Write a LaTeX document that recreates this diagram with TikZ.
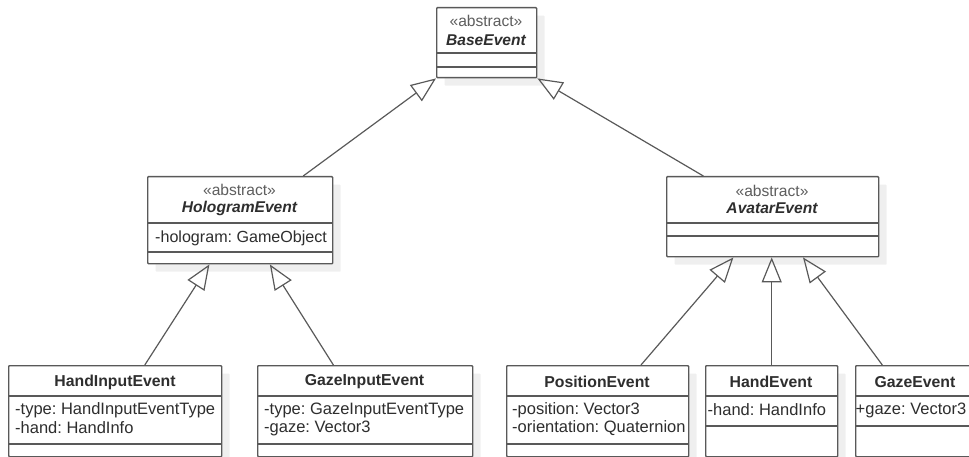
\documentclass[tikz,border=0pt]{standalone}
\usepackage{fontspec}
\setmainfont{Liberation Sans}
\frenchspacing
\usetikzlibrary{arrows.meta,calc,shadows}
\definecolor{edge}{HTML}{595959}
\definecolor{shade}{HTML}{EFEFEF}
\definecolor{ink}{HTML}{2E2E2E}
\definecolor{stereo}{HTML}{5E5E5E}
\tikzset{
  classbox/.style={draw=edge, line width=1.4pt, fill=white, rounded corners=0.8pt,
    anchor=north west, inner sep=0pt,
    drop shadow={shadow xshift=8pt, shadow yshift=-8pt, fill=shade, opacity=1}},
  sep/.style={draw=edge, line width=1.4pt},
  stereotype/.style={text=stereo, inner sep=0pt, font=\fontsize{15.6}{18}\selectfont},
  abstractname/.style={text=ink, inner sep=0pt, font=\fontsize{15.6}{18}\selectfont\bfseries\itshape},
  classname/.style={text=ink, inner sep=0pt, font=\fontsize{15.8}{18}\selectfont\bfseries},
  attr/.style={text=ink, inner sep=0pt, anchor=west, font=\fontsize{16.5}{18}\selectfont},
  inherits/.style={draw=edge, line width=1.2pt,
    -{Triangle[open, length=25pt, width=20pt, line width=1.2pt]}}
}
\begin{document}
\begin{tikzpicture}[x=1pt, y=-1pt]
\useasboundingbox (0,0) rectangle (969,457);
\clip (0,0) rectangle (969,457);

% class boxes
\node[classbox, minimum width=100pt, minimum height=70pt] (base) at (436,7) {};
\node[classbox, minimum width=185pt, minimum height=87pt] (holo) at (147,176) {};
\node[classbox, minimum width=212pt, minimum height=80pt] (avatar) at (666,176) {};
\node[classbox, minimum width=213pt, minimum height=91pt] (handin) at (8,365) {};
\node[classbox, minimum width=215pt, minimum height=91pt] (gazein) at (257,365) {};
\node[classbox, minimum width=182pt, minimum height=91pt] (position) at (506,365) {};
\node[classbox, minimum width=132pt, minimum height=91pt] (hand) at (705,365) {};
\node[classbox, minimum width=125pt, minimum height=91pt] (gaze) at (855,365) {};

% compartment separators
\foreach \cls/\ya/\yb in {base/53/67, holo/223/252, avatar/223/236,
    handin/396/444, gazein/396/444, position/396/444, hand/396/426, gaze/396/426}{
  \draw[sep] (\cls.west |- 0,\ya) -- (\cls.east |- 0,\ya);
  \draw[sep] (\cls.west |- 0,\yb) -- (\cls.east |- 0,\yb);
}

% BaseEvent
\node[stereotype] (base-st) at (486,21) {«abstract»};
\node[abstractname] (base-nm) at (486,40) {BaseEvent};

% HologramEvent
\node[stereotype] (holo-st) at (239.5,190) {«abstract»};
\node[abstractname] (holo-nm) at (239.5,208) {HologramEvent};
\node[attr, font=\fontsize{16.1}{18}\selectfont] (holo-a1) at (155,238) {-hologram: GameObject};

% AvatarEvent
\node[stereotype] (avatar-st) at (772,191) {«abstract»};
\node[abstractname] (avatar-nm) at (772,208) {AvatarEvent};

% concrete events
\node[classname] (handin-nm) at (115,382) {HandInputEvent};
\node[attr] (handin-a1) at (15,410) {-type: HandInputEventType};
\node[attr] (handin-a2) at (15,428) {-hand: HandInfo};

\node[classname] (gazein-nm) at (364.5,382) {GazeInputEvent};
\node[attr] (gazein-a1) at (264,410) {-type: GazeInputEventType};
\node[attr] (gazein-a2) at (264,428) {-gaze: Vector3};

\node[classname] (position-nm) at (597,382) {PositionEvent};
\node[attr] (position-a1) at (512,410) {-position: Vector3};
\node[attr] (position-a2) at (512,428) {-orientation: Quaternion};

\node[classname] (hand-nm) at (771,382) {HandEvent};
\node[attr] (hand-a1) at (707.5,410) {-hand: HandInfo};

\node[classname] (gaze-nm) at (915,382) {GazeEvent};
\node[attr] (gaze-a1) at (855.5,410) {+gaze: Vector3};

% generalisations
\draw[inherits] ($(holo.north west)!0.838!(holo.north east)$) -- (base.south west);
\draw[inherits] ($(avatar.north west)!0.175!(avatar.north east)$) -- (base.south east);
\draw[inherits] ($(handin.north west)!0.638!(handin.north east)$) -- ($(holo.south west)!0.335!(holo.south east)$);
\draw[inherits] ($(gazein.north west)!0.353!(gazein.north east)$) -- ($(holo.south west)!0.659!(holo.south east)$);
\draw[inherits] ($(position.north west)!0.736!(position.north east)$) -- ($(avatar.south west)!0.316!(avatar.south east)$);
\draw[inherits] (hand.north) -- (hand.north |- avatar.south);
\draw[inherits] ($(gaze.north west)!0.216!(gaze.north east)$) -- ($(avatar.south west)!0.642!(avatar.south east)$);
\end{tikzpicture}
\end{document}
